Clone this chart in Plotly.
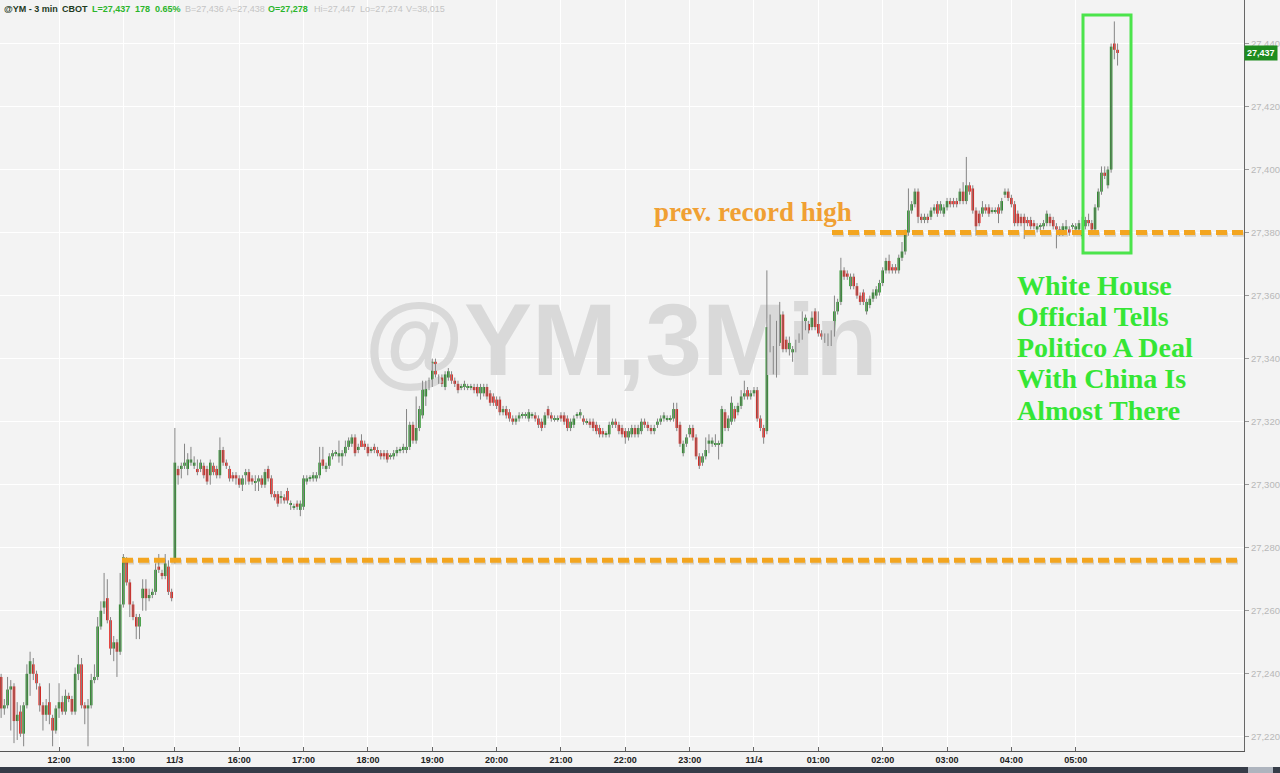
import plotly.graph_objects as go
import pandas as pd

# ---------------- data (3-min bars, @YM) ----------------
fri_open = [27239,27229,27230,27235,27236,27225,27228,27221,27230,27240,
            27243,27240,27236,27230,27227,27231,27226,27222,27229,27231,
            27228,27233,27232,27228,27240,27243,27230,27229,27230,27238,
            27239,27255,27261,27264,27257,27248,27250,27247,27262,27276,
            27269,27262,27258,27255,27264,27267,27264,27265,27266,27274,
            27272,27271,27274,27266]
fri_high = [27240,27232,27239,27238,27237,27231,27230,27231,27243,27247,
            27245,27241,27237,27231,27232,27237,27227,27230,27237,27233,
            27235,27234,27233,27242,27246,27245,27231,27232,27240,27243,
            27258,27263,27272,27270,27258,27252,27251,27272,27278,27277,
            27270,27263,27259,27259,27270,27270,27267,27267,27275,27278,
            27273,27278,27276,27267]
fri_low = [27226,27227,27229,27222,27218,27219,27220,27217,27229,27233,
           27238,27235,27228,27222,27225,27224,27217,27221,27226,27227,
           27227,27231,27227,27227,27238,27229,27224,27217,27229,27237,
           27238,27254,27259,27256,27246,27244,27239,27246,27261,27268,
           27258,27257,27251,27251,27260,27260,27263,27264,27265,27272,
           27270,27270,27265,27263]
fri_close = [27229,27230,27235,27236,27225,27227,27221,27230,27240,27244,
             27240,27237,27230,27227,27230,27227,27222,27229,27231,27228,
             27233,27232,27228,27240,27243,27230,27229,27230,27238,27239,
             27255,27260,27263,27257,27248,27250,27247,27262,27277,27269,
             27262,27258,27255,27258,27267,27264,27265,27266,27273,27273,
             27271,27275,27266,27264]

sun_open = [
    27276,27305,27305,27306,27305,27307,27306,27305,27305,27306,
    27305,27303,27306,27305,27303,27311,27307,27305,27303,27303,
    27302,27300,27303,27304,27302,27301,27301,27302,27300,27305,
    27302,27297,27297,27296,27296,27298,27294,27293,27294,27292,
    27293,27301,27302,27302,27302,27303,27308,27305,27306,27309,
    27310,27309,27309,27310,27312,27313,27315,27311,27314,27313,27312,
    27311,27312,27311,27310,27310,27310,27309,27309,27310,27311,27311,
    27311,27312,27319,27314,27318,27322,27328,27331,27332,27339,
    27334,27334,27331,27334,27335,27333,27332,27331,27331,27331,
    27331,27331,27331,27329,27329,27331,27329,27328,27327,27327,
    27323,27324,27323,27321,27320,27321,27322,27322,27321,27322,27322,
    27321,27320,27319,27324,27322,27321,27321,27322,27322,27321,
    27318,27319,27322,27322,27321,27320,27320,27320,27319,27318,
    27317,27316,27316,27319,27320,27319,27318,27317,27315,27316,
    27318,27316,27317,27320,27319,27318,27317,27319,27320,27321,
    27321,27321,27321,27324,27319,27310,27313,27316,27318,27315,27309,
    27307,27309,27313,27313,27313,27313,27313,27323,27318,27320,
    27324,27323,27325,27328,27330,27328,27329,27330,27321,27318,
    27317,27351,27343,27342,27345,27354,27346,27343,27342,27343,
    27346,27347,27350,27351,27350,27355,27351,27348,27347,27347,
    27346,27348,27355,27358,27368,27367,27363,27366,27363,27360,
    27361,27355,27357,27359,27360,27361,27364,27368,27371,27369,
    27369,27368,27372,27374,27380,27387,27389,27393,27385,27384,
    27385,27385,27387,27389,27387,27386,27388,27390,27390,27390,
    27390,27393,27390,27395,27394,27387,27386,27386,27388,27388,
    27387,27387,27388,27387,27392,27393,27391,27389,27386,27385,27385,
    27384,27384,27383,27381,27382,27382,27383,27385,27384,27382,
    27381,27380,27381,27381,27382,27381,27381,27379,27382,27384,
    27383,27381,27388,27393,27399,27395,27400,27440,27438]
sun_high = [
    27318,27306,27307,27313,27310,27312,27309,27308,27308,27307,
    27306,27308,27307,27306,27315,27312,27308,27306,27304,27304,
    27303,27303,27305,27305,27303,27303,27303,27303,27305,27306,
    27303,27298,27298,27298,27297,27299,27295,27294,27295,27295,
    27303,27303,27303,27304,27304,27312,27312,27307,27310,27311,
    27311,27314,27311,27314,27315,27316,27316,27313,27316,27314,27313,
    27312,27313,27312,27311,27311,27311,27310,27311,27312,27312,27313,
    27324,27320,27320,27328,27325,27333,27333,27334,27340,27340,
    27335,27335,27336,27337,27336,27334,27333,27332,27333,27332,
    27332,27332,27332,27332,27332,27332,27330,27329,27328,27328,
    27325,27325,27324,27322,27322,27323,27323,27323,27324,27323,27323,
    27322,27321,27323,27325,27323,27322,27322,27323,27323,27322,
    27321,27322,27323,27324,27322,27321,27321,27321,27320,27319,
    27318,27317,27320,27321,27321,27320,27319,27318,27318,27319,
    27319,27319,27321,27321,27320,27319,27319,27321,27322,27323,
    27322,27322,27326,27326,27320,27314,27316,27319,27319,27316,27310,
    27310,27315,27316,27315,27316,27314,27325,27324,27322,27328,
    27325,27326,27330,27333,27331,27330,27331,27331,27322,27319,
    27368,27354,27344,27352,27358,27355,27347,27347,27344,27346,
    27348,27355,27354,27352,27355,27356,27355,27349,27348,27348,
    27349,27360,27359,27372,27369,27368,27367,27367,27364,27361,
    27362,27359,27360,27362,27363,27365,27369,27372,27373,27370,
    27370,27373,27377,27381,27394,27390,27394,27394,27386,27386,
    27386,27388,27389,27390,27390,27389,27391,27391,27391,27391,
    27394,27396,27404,27396,27395,27388,27387,27390,27389,27389,
    27388,27388,27389,27391,27394,27394,27392,27390,27387,27386,27386,
    27385,27385,27384,27383,27383,27384,27387,27386,27385,27383,
    27382,27383,27384,27382,27383,27383,27384,27385,27385,27386,
    27384,27389,27394,27401,27401,27401,27440,27447,27440]
sun_low = [
    27275,27300,27302,27305,27303,27306,27305,27303,27304,27302,
    27300,27300,27303,27302,27302,27306,27305,27301,27301,27300,
    27299,27298,27300,27300,27300,27298,27298,27299,27299,27301,
    27296,27295,27293,27294,27294,27294,27292,27292,27292,27290,
    27292,27300,27301,27301,27301,27302,27305,27304,27305,27308,
    27309,27307,27306,27309,27311,27312,27309,27310,27312,27311,27309,
    27310,27310,27309,27308,27308,27307,27308,27308,27309,27310,27310,
    27310,27311,27313,27313,27317,27321,27325,27330,27331,27334,
    27332,27331,27330,27333,27332,27331,27329,27330,27330,27330,
    27330,27329,27328,27327,27328,27327,27325,27325,27324,27322,
    27322,27321,27320,27319,27319,27320,27321,27321,27320,27321,27320,
    27318,27317,27318,27321,27320,27320,27320,27320,27319,27317,
    27317,27318,27321,27321,27319,27319,27318,27317,27316,27315,
    27315,27315,27315,27318,27318,27316,27315,27313,27314,27315,
    27315,27315,27316,27318,27317,27316,27316,27318,27319,27320,
    27320,27320,27320,27317,27312,27309,27312,27315,27314,27308,27305,
    27306,27308,27310,27312,27312,27308,27312,27317,27317,27319,
    27320,27322,27324,27327,27327,27327,27328,27320,27317,27313,
    27316,27342,27335,27334,27344,27342,27342,27341,27339,27342,
    27345,27346,27349,27348,27349,27349,27347,27346,27345,27344,
    27344,27347,27354,27357,27365,27365,27362,27362,27359,27357,
    27357,27354,27356,27358,27359,27360,27363,27367,27367,27367,
    27367,27367,27371,27373,27379,27386,27388,27383,27383,27383,
    27383,27384,27386,27385,27386,27385,27387,27388,27388,27388,
    27389,27389,27389,27392,27386,27379,27382,27385,27386,27385,
    27386,27386,27383,27386,27391,27390,27388,27382,27382,27382,27378,
    27382,27381,27381,27380,27380,27381,27382,27382,27381,27375,
    27379,27379,27380,27379,27381,27380,27380,27378,27381,27382,
    27380,27380,27387,27392,27397,27394,27399,27435,27433]
sun_close = [
    27307,27303,27306,27307,27308,27308,27307,27304,27307,27303,
    27301,27307,27304,27303,27311,27307,27306,27302,27302,27302,
    27300,27302,27304,27301,27301,27301,27302,27300,27304,27302,
    27297,27296,27294,27296,27295,27295,27294,27293,27293,27294,
    27302,27302,27302,27303,27303,27307,27306,27306,27309,27310,
    27310,27310,27310,27312,27314,27315,27310,27312,27312,27312,27310,
    27311,27311,27310,27309,27309,27308,27309,27310,27311,27311,27312,
    27312,27319,27314,27318,27324,27331,27332,27333,27339,27335,
    27333,27332,27335,27336,27333,27332,27330,27331,27332,27331,
    27331,27330,27329,27331,27331,27328,27326,27326,27325,27323,
    27324,27322,27321,27320,27321,27322,27322,27322,27323,27322,27321,
    27319,27318,27322,27322,27321,27321,27321,27321,27320,27318,
    27320,27321,27322,27323,27320,27320,27319,27318,27317,27316,
    27316,27316,27319,27320,27319,27317,27316,27315,27317,27318,
    27316,27318,27320,27319,27318,27317,27318,27320,27321,27322,
    27321,27321,27324,27318,27313,27313,27315,27318,27315,27309,27306,
    27309,27311,27314,27314,27313,27313,27324,27318,27321,27326,
    27321,27325,27328,27329,27328,27329,27330,27321,27318,27315,
    27350,27343,27339,27345,27354,27343,27343,27345,27343,27345,
    27347,27350,27353,27349,27353,27350,27348,27347,27346,27345,
    27348,27355,27358,27368,27366,27366,27366,27363,27360,27358,
    27358,27358,27359,27361,27362,27364,27368,27371,27368,27368,
    27368,27372,27374,27380,27387,27389,27393,27385,27384,27385,
    27384,27387,27388,27386,27389,27388,27390,27389,27389,27389,
    27393,27390,27395,27393,27387,27382,27383,27388,27387,27386,
    27387,27387,27386,27390,27393,27391,27389,27383,27383,27383,27383,
    27383,27382,27382,27382,27382,27383,27386,27383,27382,27381,
    27380,27382,27382,27380,27382,27382,27383,27380,27384,27383,
    27381,27388,27393,27399,27398,27400,27439,27438,27437]

fri_start = "2019-11-01 11:06"
sun_start = "2019-11-03 15:00"

record_high = 27380      # prev. record high level
friday_high = 27276      # earlier resistance level
last_price = 27437

header_tokens = ["@YM - 3 min", "CBOT", "L=27,437", "178", "0.65%", "B=27,436",
                 "A=27,438", "O=27,278", "Hi=27,447", "Lo=27,274", "V=38,015"]
note_lines = ["White House", "Official Tells", "Politico A Deal", "With China Is", "Almost There"]

# ---------------- assemble ----------------
opens = fri_open + sun_open
highs = fri_high + sun_high
lows = fri_low + sun_low
closes = fri_close + sun_close
n = min(len(opens), len(highs), len(lows), len(closes))
times = list(pd.date_range(fri_start, periods=len(fri_open), freq="3min")) + \
        list(pd.date_range(sun_start, periods=len(sun_open), freq="3min"))
idx = list(range(n))

tickvals, ticktext = [], []
for i, t in enumerate(times[:n]):
    if i == len(fri_open):
        tickvals.append(i); ticktext.append(f"{t.month}/{t.day}")
    elif t.minute == 0:
        tickvals.append(i)
        ticktext.append(f"{t.month}/{t.day}" if t.hour == 0 else t.strftime("%H:%M"))

W, H = 1280, 773
ML, MR, MT, MB = 0, 36, 0, 22
PW, PH = W - ML - MR, H - MT - MB
x_range = [-0.35, 386.3]
y_range = [27215.5, 27453.8]

def px(xp):
    return (xp - ML) / PW

def py(yp):
    return (PH - (yp - MT)) / PH

GREEN = "#1a8a1a"
RED = "#e2140e"

fig = go.Figure()

# watermark (below candles)
fig.add_trace(go.Scatter(
    x=[x_range[0] + px(621) * (x_range[1] - x_range[0])],
    y=[y_range[0] + py(349) * (y_range[1] - y_range[0])],
    mode="text", text=["@YM,3Min"], textposition="middle center",
    textfont=dict(family="Arial", size=102, color="#d9d9d9", weight="bold"),
    hoverinfo="skip", showlegend=False))

# wicks
wx, wy = [], []
for i in idx:
    wx += [i, i, None]
    wy += [lows[i], highs[i], None]
fig.add_trace(go.Scatter(x=wx, y=wy, mode="lines",
                         line=dict(color="#858585", width=1),
                         hoverinfo="skip", showlegend=False))

# bodies
base, height, colors = [], [], []
for i in idx:
    o, c = opens[i], closes[i]
    h = abs(c - o)
    if h < 0.35:
        base.append(min(o, c) - 0.175); height.append(0.35)
    else:
        base.append(min(o, c)); height.append(h)
    colors.append(GREEN if c >= o else RED)
fig.add_trace(go.Bar(x=idx, y=height, base=base, width=0.8,
                     marker=dict(color=colors, line=dict(width=0)),
                     hoverinfo="skip", showlegend=False))

shapes = []
# dashed level lines with faint shadow
for lvl, x0p, x1p in [(record_high, 832, PW), (friday_high, 122, 1237)]:
    shapes.append(dict(type="line", xref="paper", yref="y", x0=px(x0p + 1), x1=px(x1p + 1),
                       y0=lvl - 0.5, y1=lvl - 0.5,
                       line=dict(color="rgba(120,90,40,0.22)", width=5, dash="11px,5px")))
    shapes.append(dict(type="line", xref="paper", yref="y", x0=px(x0p), x1=px(x1p),
                       y0=lvl, y1=lvl,
                       line=dict(color="#f3a51f", width=5, dash="11px,5px")))
# highlight box
shapes.append(dict(type="rect", xref="paper", yref="paper",
                   x0=px(1083), x1=px(1131), y0=py(253), y1=py(15),
                   line=dict(color="#4be44b", width=3), fillcolor="rgba(0,0,0,0)"))
# bottom dark strip
shapes.append(dict(type="rect", xref="paper", yref="paper",
                   x0=-0.01, x1=1.05, y0=py(767), y1=py(776),
                   line=dict(width=0), fillcolor="#363c48"))
shapes.append(dict(type="rect", xref="paper", yref="paper",
                   x0=px(1248), x1=px(1273), y0=py(767), y1=py(776),
                   line=dict(width=0), fillcolor="#aeb4be"))

annotations = []
# header
hdr_pos = [2, 60, 90, 133, 153, 183, 224, 266, 312, 358, 404]
hdr_col = ["#1e3a1e", "#1e3a1e", "#2bb52b", "#2bb52b", "#2bb52b", "#c4c4c4",
           "#c4c4c4", "#2bb52b", "#c4c4c4", "#c4c4c4", "#c4c4c4"]
hdr_bold = [True, True, True, True, True, False, False, True, False, False, False]
for tok, xp_, col, b in zip(header_tokens, hdr_pos, hdr_col, hdr_bold):
    annotations.append(dict(xref="paper", yref="paper", x=px(xp_), y=py(9),
                            xanchor="left", yanchor="middle", showarrow=False,
                            text=f"<b>{tok}</b>" if b else tok,
                            font=dict(family="Arial", size=9, color=col)))
# prev record high label
annotations.append(dict(xref="paper", yref="paper", x=px(652), y=py(212),
                        xanchor="left", yanchor="middle", showarrow=False,
                        text="<b>prev. record high</b>",
                        font=dict(family="Liberation Serif", size=27, color="#f0a033")))
# green note
for j, line in enumerate(note_lines):
    annotations.append(dict(xref="paper", yref="paper", x=px(1015), y=py(285 + j * 31.3),
                            xanchor="left", yanchor="middle", showarrow=False,
                            text=f"<b>{line}</b>",
                            font=dict(family="Liberation Serif", size=28, color="#35e635")))
# last price tag
annotations.append(dict(xref="paper", yref="y", x=1.0, y=last_price,
                        xanchor="left", yanchor="middle", showarrow=False,
                        text=f"<b>{last_price:,}</b>", bgcolor="#1e8c1e", borderpad=2,
                        font=dict(family="Arial", size=9, color="white")))

fig.update_layout(
    width=W, height=H, margin=dict(l=ML, r=MR, t=MT, b=MB),
    plot_bgcolor="#f3f3f3", paper_bgcolor="#f3f3f3",
    showlegend=False, barmode="overlay",
    shapes=shapes, annotations=annotations,
    xaxis=dict(range=x_range, tickmode="array", tickvals=tickvals, ticktext=ticktext,
               showgrid=True, gridcolor="#ffffff", gridwidth=1,
               ticks="inside", ticklen=4, tickcolor="#666",
               showline=True, linecolor="#555", linewidth=1, zeroline=False,
               tickfont=dict(family="Arial", size=9, color="#222", weight="bold"),
               automargin=False, fixedrange=True),
    yaxis=dict(range=y_range, side="right", tickmode="linear", tick0=27220, dtick=20,
               tickformat=",d", showgrid=True, gridcolor="#ffffff", gridwidth=1,
               ticks="outside", ticklen=4, tickcolor="#999",
               showline=True, linecolor="#666", linewidth=1, zeroline=False,
               tickfont=dict(family="Arial", size=9.5, color="#b8b8b8"),
               automargin=False, fixedrange=True),
)

fig.write_html("out.html", config={"displayModeBar": False},
               post_script="document.body.style.margin='0';")
